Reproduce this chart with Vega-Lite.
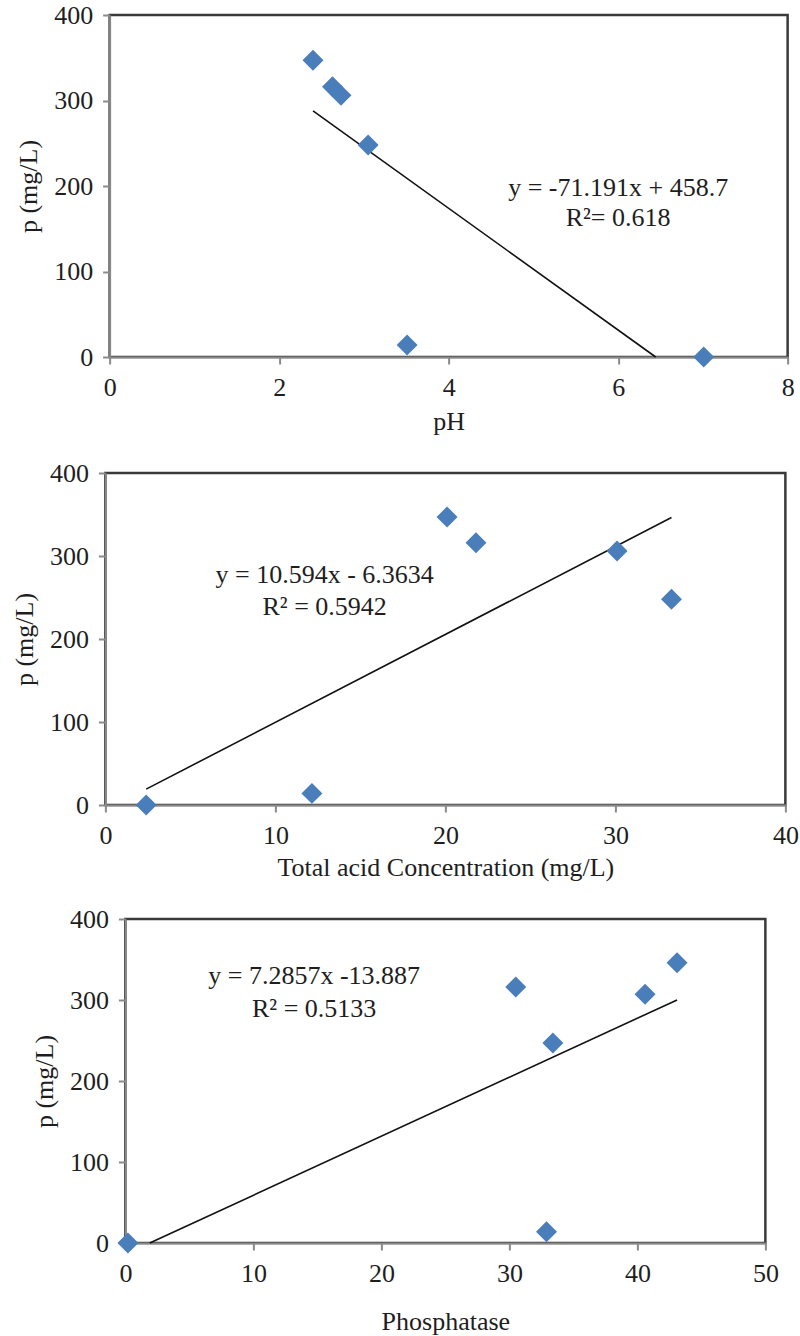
{
  "$schema": "https://vega.github.io/schema/vega-lite/v6.json",
  "background": "white",
  "padding": {"left": 10, "top": 0, "right": 5, "bottom": 0},
  "center": true,
  "spacing": 22,
  "config": {
    "font": "Liberation Serif",
    "view": {"stroke": "#3a3a3a", "strokeWidth": 2.5},
    "axis": {
      "labelFont": "Liberation Serif", "labelFontSize": 26, "labelColor": "#1e1e1e",
      "titleFont": "Liberation Serif", "titleFontSize": 26, "titleFontWeight": "normal", "titleColor": "#1e1e1e",
      "domainColor": "#8a8a8a", "domainWidth": 2, "tickColor": "#8a8a8a", "tickWidth": 2, "tickSize": 7,
      "grid": false, "labelPadding": 10, "labelFlush": false, "format": "d"
    },
    "axisY": {"titlePadding": 12},
    "axisX": {"titlePadding": 8}
  },
  "datasets": {
    "pts1": [
      {"x": 2.40, "y": 347}, {"x": 2.63, "y": 316}, {"x": 2.73, "y": 306},
      {"x": 3.05, "y": 248}, {"x": 3.51, "y": 14}, {"x": 7.01, "y": 0}
    ],
    "line1": [{"x": 2.40, "y": 287.8}, {"x": 6.443, "y": 0}],
    "text1": [
      {"x": 6.0, "y": 198, "label": "y = -71.191x + 458.7"},
      {"x": 6.0, "y": 163, "label": "R²= 0.618"}
    ],
    "pts2": [
      {"x": 2.40, "y": 0}, {"x": 12.15, "y": 14}, {"x": 20.1, "y": 347},
      {"x": 21.8, "y": 316}, {"x": 30.1, "y": 306}, {"x": 33.3, "y": 248}
    ],
    "line2": [{"x": 2.40, "y": 19.1}, {"x": 33.3, "y": 346.4}],
    "text2": [
      {"x": 12.9, "y": 277, "label": "y = 10.594x - 6.3634"},
      {"x": 12.9, "y": 239, "label": "R² = 0.5942"}
    ],
    "pts3": [
      {"x": 0.2, "y": 0}, {"x": 30.5, "y": 316}, {"x": 33.4, "y": 247},
      {"x": 32.9, "y": 14}, {"x": 40.6, "y": 307}, {"x": 43.1, "y": 346}
    ],
    "line3": [{"x": 1.906, "y": 0}, {"x": 43.1, "y": 300.1}],
    "text3": [
      {"x": 14.75, "y": 330, "label": "y = 7.2857x -13.887"},
      {"x": 14.75, "y": 289, "label": "R² = 0.5133"}
    ]
  },
  "vconcat": [
    {
      "width": 678, "height": 342,
      "layer": [
        {
          "data": {"name": "line1"},
          "mark": {"type": "line", "color": "#111111", "strokeWidth": 1.6},
          "encoding": {
            "x": {"field": "x", "type": "quantitative", "scale": {"domain": [0, 8], "nice": false}, "axis": {"values": [0, 2, 4, 6, 8], "title": "pH"}},
            "y": {"field": "y", "type": "quantitative", "scale": {"domain": [0, 400], "nice": false}, "axis": {"values": [0, 100, 200, 300, 400], "title": "p (mg/L)"}}
          }
        },
        {
          "data": {"name": "pts1"},
          "mark": {"type": "point", "shape": "diamond", "filled": true, "size": 440, "color": "#4a7ebb", "opacity": 1},
          "encoding": {
            "x": {"field": "x", "type": "quantitative"},
            "y": {"field": "y", "type": "quantitative"}
          }
        },
        {
          "data": {"name": "text1"},
          "mark": {"type": "text", "fontSize": 26, "font": "Liberation Serif", "color": "#1e1e1e", "align": "center", "baseline": "middle"},
          "encoding": {
            "x": {"field": "x", "type": "quantitative"},
            "y": {"field": "y", "type": "quantitative"},
            "text": {"field": "label"}
          }
        }
      ]
    },
    {
      "width": 680, "height": 332,
      "layer": [
        {
          "data": {"name": "line2"},
          "mark": {"type": "line", "color": "#111111", "strokeWidth": 1.6},
          "encoding": {
            "x": {"field": "x", "type": "quantitative", "scale": {"domain": [0, 40], "nice": false}, "axis": {"values": [0, 10, 20, 30, 40], "title": "Total acid Concentration (mg/L)", "titlePadding": 6}},
            "y": {"field": "y", "type": "quantitative", "scale": {"domain": [0, 400], "nice": false}, "axis": {"values": [0, 100, 200, 300, 400], "title": "p (mg/L)"}}
          }
        },
        {
          "data": {"name": "pts2"},
          "mark": {"type": "point", "shape": "diamond", "filled": true, "size": 440, "color": "#4a7ebb", "opacity": 1},
          "encoding": {
            "x": {"field": "x", "type": "quantitative"},
            "y": {"field": "y", "type": "quantitative"}
          }
        },
        {
          "data": {"name": "text2"},
          "mark": {"type": "text", "fontSize": 26, "font": "Liberation Serif", "color": "#1e1e1e", "align": "center", "baseline": "middle"},
          "encoding": {
            "x": {"field": "x", "type": "quantitative"},
            "y": {"field": "y", "type": "quantitative"},
            "text": {"field": "label"}
          }
        }
      ]
    },
    {
      "width": 640, "height": 324,
      "layer": [
        {
          "data": {"name": "line3"},
          "mark": {"type": "line", "color": "#111111", "strokeWidth": 1.6},
          "encoding": {
            "x": {"field": "x", "type": "quantitative", "scale": {"domain": [0, 50], "nice": false}, "axis": {"values": [0, 10, 20, 30, 40, 50], "title": "Phosphatase", "titlePadding": 22}},
            "y": {"field": "y", "type": "quantitative", "scale": {"domain": [0, 400], "nice": false}, "axis": {"values": [0, 100, 200, 300, 400], "title": "p (mg/L)"}}
          }
        },
        {
          "data": {"name": "pts3"},
          "mark": {"type": "point", "shape": "diamond", "filled": true, "size": 440, "color": "#4a7ebb", "opacity": 1},
          "encoding": {
            "x": {"field": "x", "type": "quantitative"},
            "y": {"field": "y", "type": "quantitative"}
          }
        },
        {
          "data": {"name": "text3"},
          "mark": {"type": "text", "fontSize": 26, "font": "Liberation Serif", "color": "#1e1e1e", "align": "center", "baseline": "middle"},
          "encoding": {
            "x": {"field": "x", "type": "quantitative"},
            "y": {"field": "y", "type": "quantitative"},
            "text": {"field": "label"}
          }
        }
      ]
    }
  ]
}
